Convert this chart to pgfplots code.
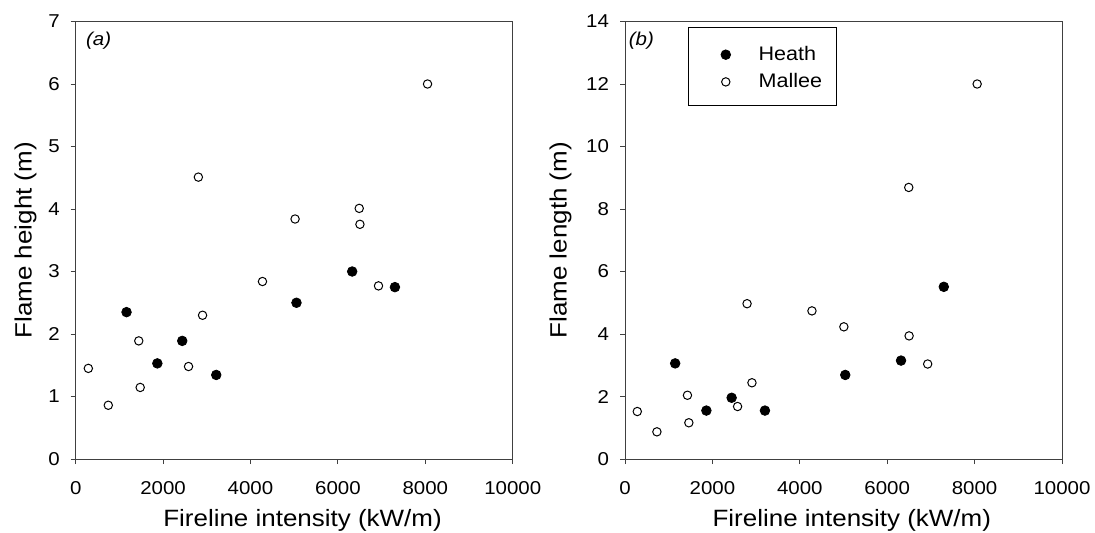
\documentclass[border=0pt]{standalone}
\usepackage{fontspec}
\setmainfont{Liberation Sans}[FakeStretch=1.1]
\usepackage{pgfplots}
\pgfplotsset{compat=1.18}

\pgfplotsset{
  panel/.style={
    scale only axis, width=218.5pt, height=218.75pt,
    xmin=0, xmax=10000, xtick={0,2000,4000,6000,8000,10000},
    ymin=0,
    axis line style={black!75, line width=0.5pt},
    tick style={black!75, line width=0.5pt},
    tick align=outside, xtick pos=bottom, ytick pos=left,
    major tick length=2.5pt,
    tick label style={font=\fontsize{9.3}{11}\selectfont},
    xticklabel style={yshift=-5pt},
    yticklabel style={xshift=-2pt},
    label style={font=\fontsize{11.8}{14}\selectfont},
    /pgf/number format/assume math mode=true,
    /pgf/number format/1000 sep={},
    scaled ticks=false,
    xlabel={Fireline intensity (kW/m)},
    xlabel style={at={(axis description cs:0.519,-0.155)}, anchor=base},
    clip=false,
  },
  heath/.style={only marks, mark=*, mark size=2.4pt, mark options={fill=black, draw=black}},
  mallee/.style={only marks, mark=*, mark size=2.1pt, mark options={fill=white, draw=black, line width=0.5pt}},
}

\begin{document}
\begin{tikzpicture}
% (a) flame height
\begin{axis}[panel, at={(0pt,0pt)},
    ymax=7, ytick={0,1,2,3,4,5,6,7},
    ylabel={Flame height (m)},
    ylabel style={at={(axis description cs:-0.1007,0.5)}, anchor=base},
]
\addplot[heath] coordinates {(1163,2.35) (1868,1.53) (2438,1.89) (3216,1.345) (5052,2.50) (6327,3.00) (7305,2.75)};
\addplot[mallee] coordinates {(289,1.45) (746,0.86) (1443,1.89) (1476,1.145) (2807,4.51) (2582,1.48) (2903,2.30) (4274,2.84) (5020,3.84) (6488,4.01) (6504,3.755) (6929,2.77) (8051,6.00)};
\node[anchor=base west, inner sep=0pt, font=\fontsize{9.3}{11}\itshape] at (axis description cs:0.0229,0.945) {(a)};
\end{axis}
% (b) flame length
\begin{axis}[panel, at={(274.65pt,0pt)},
    ymax=14, ytick={0,2,4,6,8,10,12,14},
    ylabel={Flame length (m)},
    ylabel style={at={(axis description cs:-0.1335,0.5)}, anchor=base},
    legend style={at={(axis description cs:0.205,0.963)}, anchor=north west, draw=none, fill=none,
      font=\fontsize{9.8}{12}\selectfont, row sep=1pt,
      /tikz/every odd column/.append style={column sep=12pt}},
    legend cell align=left,
    legend image code/.code={\draw[#1] plot coordinates {(0pt,0pt)};},
]
\addplot[heath] coordinates {(1148,3.06) (1862,1.55) (2440,1.96) (3202,1.55) (5040,2.69) (6316,3.15) (7295,5.51)};
\addlegendentry{Heath}
\addplot[mallee] coordinates {(281,1.52) (730,0.87) (1429,2.04) (1461,1.16) (2793,4.97) (2576,1.68) (2905,2.44) (4278,4.74) (5008,4.23) (6493,8.69) (6501,3.94) (6926,3.04) (8058,12.0)};
\addlegendentry{Mallee}
\draw[black, line width=0.5pt] (axis description cs:0.146,0.987) rectangle (axis description cs:0.4835,0.8071);
\node[anchor=base west, inner sep=0pt, font=\fontsize{9.3}{11}\itshape] at (axis description cs:0.008,0.945) {(b)};
\end{axis}
\pgfresetboundingbox
\useasboundingbox (-37.85pt,-36.5pt) rectangle (509.65pt,229.5pt);
\end{tikzpicture}
\end{document}
